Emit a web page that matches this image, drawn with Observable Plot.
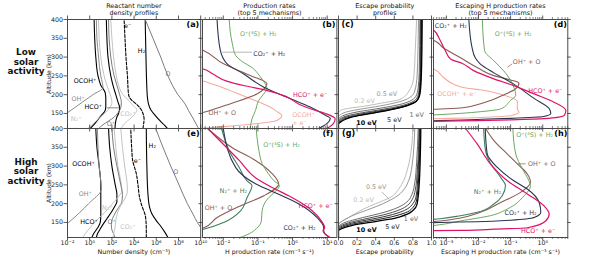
<!DOCTYPE html>
<html><head><meta charset="utf-8">
<script src="https://cdn.jsdelivr.net/npm/d3@7"></script>
<script src="https://cdn.jsdelivr.net/npm/@observablehq/plot@0.6"></script>
<style>
body{margin:0;background:#fff;}
#chart{position:relative;width:594px;height:264px;font-family:"DejaVu Sans",sans-serif;color:#111;overflow:hidden;}
#chart svg{position:absolute;}
.lbl{position:absolute;transform:translate(-50%,-50%);white-space:nowrap;text-align:center;}
</style></head>
<body><div id="chart"></div>
<script>
// ---------- axis ticks ----------
const ALT_DOMAIN = [110, 400];
const ALT_TICKS = [150, 200, 250, 300, 350, 400];
const DENS_TICKS = [1e-2, 1e0, 1e2, 1e4, 1e6, 1e8, 1e10];
const PROD_TICKS = [1e-2, 1e-1, 1e0, 1e1];
const ESC_TICKS = [0, 0.2, 0.4, 0.6, 0.8, 1.0];
const ESCH_TICKS = [1e-3, 1e-2, 1e-1, 1e0];

// ---------- (a) low solar: number densities [alt km, log10 n] ----------
const lowOCOH = [[400,0.4],[350,0.45],[300,0.55],[250,0.75],[225,1.0],[205,1.4],[190,1.45],[170,1.45],[158,1.4],[145,1.05],[130,0.65],[120,0.38],[110,0.05]];
const lowOH = [[400,0.6],[350,0.65],[300,0.8],[250,1.0],[230,1.15],[219,1.2],[200,0.3],[180,-0.66],[152,-2.0],[140,-2.6]];
const lowHCO = [[400,1.5],[350,1.55],[300,1.65],[250,1.9],[225,2.1],[200,2.35],[180,2.55],[165,2.7],[150,2.6],[139,2.43],[125,2.32],[110,2.28]];
const lowN2 = [[400,0.8],[350,0.85],[300,1.0],[250,1.3],[220,1.6],[200,1.85],[180,2.0],[165,1.8],[150,1.35],[140,0.95],[125,0.4],[110,-0.15]];
const lowOp = [[400,1.7],[350,1.75],[300,1.9],[250,2.2],[225,2.45],[200,2.7],[180,2.85],[165,2.8],[150,2.5],[140,2.2],[130,1.7],[120,1.2],[110,0.8]];
const lowCO2 = [[400,1.9],[350,2.0],[300,2.15],[250,2.4],[225,2.6],[200,3.0],[185,3.5],[170,3.95],[160,4.25],[150,4.1],[140,3.8],[130,3.4],[120,3.05],[110,2.85]];
const lowE = [[400,3.1],[350,3.18],[300,3.27],[250,3.4],[200,3.5],[185,3.8],[175,4.2],[162,4.6],[150,4.8],[135,4.9],[120,4.85],[110,4.8]];
const lowH2 = [[400,5.0],[300,5.07],[200,5.18],[175,5.3],[160,5.5],[145,5.9],[130,6.35],[118,6.76],[110,7.0]];
const lowO = [[400,5.0],[350,5.7],[300,6.4],[250,7.05],[200,7.95],[175,8.6],[158,8.9],[135,9.35],[113,9.75],[110,9.8]];

// ---------- (e) high solar: number densities ----------
const highOCOH = [[400,0.55],[350,0.65],[300,0.85],[250,1.0],[200,1.0],[170,1.0],[150,0.95],[135,0.7],[120,0.35],[110,0.2]];
const highOH = [[400,0.7],[350,0.75],[300,0.85],[260,1.0],[239,1.05],[200,-0.1],[175,-0.95],[150,-1.9],[140,-2.3]];
const highHCO = [[400,1.7],[350,1.8],[300,2.0],[250,2.3],[225,2.45],[205,2.45],[190,2.2],[175,1.9],[160,1.55],[145,1.2],[130,0.9],[120,0.7],[110,0.6]];
const highN2 = [[400,2.2],[350,2.35],[300,2.55],[260,2.8],[235,2.9],[215,2.5],[195,1.9],[175,1.3],[155,0.6],[135,0.0],[120,-0.4],[110,-0.6]];
const highOp = [[400,2.0],[350,2.15],[300,2.45],[250,2.8],[225,2.95],[205,2.9],[190,2.6],[175,2.3],[160,2.05],[145,1.95],[130,2.0],[120,2.15],[110,2.25]];
const highCO2 = [[400,2.8],[350,2.95],[300,3.15],[260,3.35],[235,3.4],[215,3.2],[195,2.8],[175,2.5],[155,2.35],[140,2.3],[125,2.2],[110,2.1]];
const highE = [[400,3.7],[350,3.78],[315,3.87],[280,4.2],[250,4.35],[216,4.5],[190,4.75],[173,4.97],[150,5.08],[130,5.1],[110,5.1]];
const highH2 = [[400,5.1],[300,5.15],[225,5.25],[190,5.4],[173,5.6],[155,6.0],[140,6.4],[125,6.75],[110,7.05]];
const highO = [[400,5.95],[350,6.6],[300,7.3],[250,8.05],[200,8.8],[170,9.35],[150,9.7],[137,10.0],[120,10.3]];

// ---------- (b) low solar: H production rates [alt, log10 rate] ----------
const lowProdO4S = [[400,-1.83],[336,-1.74],[304,-1.64],[288,-1.45],[272,-1.17],[250,-0.95],[230,-0.8],[216,-0.74],[200,-0.85],[184,-0.98],[158,-1.07],[136,-1.17],[110,-1.22]];
const lowProdCO2 = [[400,-2.18],[320,-2.09],[282,-1.89],[255,-1.41],[220,-0.83],[193,-0.16],[167,0.51],[145,0.95],[137,1.09],[123,0.99],[110,0.75]];
const lowProdOH = [[330,-2.9],[319,-2.6],[282,-1.99],[251,-1.22],[229,-0.74],[202,-1.03],[176,-1.79],[153,-2.56],[145,-2.9]];
const lowProdHCO = [[275,-2.9],[269,-2.6],[255,-2.3],[236,-1.9],[223,-1.35],[212,-0.78],[196,-0.21],[174,0.2],[160,0.6],[150,0.95],[136,1.23],[123,1.18],[110,0.99]];
const lowProdOCOH = [[245,-2.9],[237,-2.6],[218,-1.99],[193,-1.32],[167,-0.65],[155,-0.45],[145,-0.31],[131,-0.45],[123,-1.03],[115,-1.99],[110,-2.7]];

// ---------- (f) high solar: H production rates ----------
const highProdO4S = [[400,-1.05],[341,-0.97],[307,-0.88],[280,-0.7],[262,-0.55],[248,-0.38],[232,-0.5],[216,-0.69],[181,-0.88],[154,-0.9],[133,-1.05],[120,-1.25],[110,-1.51]];
const highProdN2 = [[400,-2.05],[341,-1.83],[296,-1.54],[261,-1.32],[248,-1.17],[217,-1.31],[181,-1.5],[150,-1.99],[132,-2.57],[125,-2.9]];
const highProdCO2 = [[400,-2.0],[296,-1.64],[253,-1.07],[229,-0.5],[200,0.17],[163,0.71],[136,0.9],[128,0.9],[118,0.95],[110,1.08]];
const highProdOH = [[400,-2.45],[349,-1.74],[315,-1.07],[280,-0.59],[252,-0.4],[221,-0.83],[194,-1.51],[163,-2.18],[136,-2.56],[128,-2.9]];
const highProdHCO = [[400,-2.45],[360,-2.02],[315,-1.54],[269,-1.07],[243,-0.59],[221,-0.11],[189,0.46],[154,0.83],[136,0.93],[128,0.88],[110,1.08]];

// ---------- (c) low solar: escape probability [alt, p] ----------
const lowEsc02 = [[110,0],[150,0],[158,0.02],[164,0.12],[169,0.27],[177,0.45],[185,0.63],[195,0.71],[207,0.75],[247,0.81],[317,0.825],[400,0.84]];
const lowEsc05 = [[110,0],[140,0],[147,0.02],[155,0.1],[162,0.25],[168,0.4],[175,0.55],[183,0.68],[195,0.78],[210,0.82],[250,0.845],[320,0.855],[400,0.86]];
const lowEsc1 = [[110,0],[135,0],[140,0.02],[147,0.08],[154,0.2],[160,0.35],[167,0.52],[174,0.66],[182,0.76],[195,0.83],[215,0.855],[260,0.868],[400,0.875]];
const lowEsc2 = [[110,0],[130,0],[136,0.02],[142,0.07],[149,0.19],[155,0.33],[162,0.5],[169,0.65],[177,0.76],[190,0.84],[210,0.865],[260,0.877],[400,0.882]];
const lowEsc3 = [[110,0],[127,0],[133,0.02],[140,0.08],[146,0.19],[152,0.32],[159,0.49],[166,0.64],[174,0.76],[186,0.845],[205,0.87],[260,0.882],[400,0.888]];
const lowEsc5 = [[110,0],[125,0],[130,0.02],[137,0.08],[143,0.18],[149,0.31],[156,0.47],[163,0.62],[171,0.74],[183,0.84],[200,0.87],[260,0.887],[400,0.893]];
const lowEsc10 = [[110,0],[122,0],[127,0.02],[134,0.07],[140,0.14],[146,0.26],[152,0.4],[158,0.53],[164,0.64],[171,0.74],[178,0.81],[190,0.86],[205,0.878],[260,0.892],[400,0.9]];

// ---------- (g) high solar: escape probability ----------
const highEsc02 = [[110,0],[145,0],[152,0.03],[162,0.1],[175,0.19],[186,0.27],[200,0.4],[217,0.56],[240,0.65],[261,0.7],[290,0.74],[323,0.77],[400,0.8]];
const highEsc05 = [[110,0],[144,0],[150,0.02],[158,0.07],[167,0.14],[177,0.24],[188,0.36],[199,0.47],[210,0.56],[222,0.64],[240,0.71],[265,0.76],[300,0.79],[350,0.81],[400,0.82]];
const highEsc1 = [[110,0],[139,0],[144,0.02],[150,0.07],[156,0.15],[163,0.26],[170,0.38],[177,0.49],[185,0.59],[195,0.68],[208,0.75],[225,0.79],[255,0.82],[310,0.84],[400,0.857]];
const highEsc2 = [[110,0],[136,0],[141,0.02],[146,0.07],[152,0.15],[158,0.26],[164,0.37],[170,0.48],[177,0.58],[185,0.67],[195,0.74],[210,0.79],[235,0.825],[290,0.848],[400,0.866]];
const highEsc3 = [[110,0],[134,0],[138,0.02],[143,0.07],[148,0.14],[154,0.25],[159,0.36],[165,0.48],[171,0.58],[178,0.67],[186,0.74],[200,0.8],[220,0.835],[280,0.855],[400,0.872]];
const highEsc5 = [[110,0],[131,0],[135,0.02],[140,0.07],[145,0.14],[150,0.24],[155,0.36],[160,0.47],[165,0.57],[171,0.66],[178,0.74],[190,0.8],[210,0.84],[270,0.862],[400,0.878]];
const highEsc10 = [[110,0],[128,0],[132,0.02],[137,0.07],[141,0.13],[146,0.23],[150,0.34],[155,0.45],[159,0.56],[165,0.66],[172,0.74],[182,0.8],[199,0.845],[261,0.87],[400,0.885]];

// ---------- (d) low solar: escaping H production [alt, log10 rate] ----------
const lowEscO4S = [[400,-1.88],[317,-1.81],[290,-1.52],[263,-1.21],[220,-0.9],[198,-0.84],[185,-1.0],[162,-1.31],[155,-1.9],[150,-2.6],[146,-3.4],[144,-3.8]];
const lowEscCO2 = [[400,-2.3],[325,-2.2],[298,-2.1],[282,-1.95],[258,-1.52],[228,-0.9],[190,-0.27],[163,0.2],[150,0.25],[142,0.03],[137,-1.0],[134,-2.04],[131,-3.2],[129,-3.8]];
const lowEscOH = [[350,-3.8],[345,-3.4],[325,-3.1],[300,-2.6],[270,-2.0],[250,-1.5],[240,-1.05],[231,-0.74],[215,-0.85],[200,-1.2],[185,-1.6],[172,-2.1],[165,-2.5],[161,-3.4],[159,-3.8]];
const lowEscHCO = [[380,-3.8],[372,-3.4],[344,-3.19],[317,-3.03],[295,-2.87],[283,-2.5],[264,-2.15],[242,-1.52],[224,-0.9],[202,-0.27],[180,0.35],[158,0.72],[145,0.67],[136,0.04],[133,-1.0],[131,-2.04],[129,-3.4],[128,-3.8]];
const lowEscOCOH = [[275,-3.8],[268,-3.4],[245,-3.08],[228,-2.77],[217,-2.35],[213,-1.94],[201,-1.31],[182,-0.79],[162,-0.79],[153,-0.74],[144,-1.0],[140,-1.73],[138,-2.35],[136,-3.4],[135,-3.8]];

// ---------- (h) high solar: escaping H production ----------
const highEscO4S = [[400,-0.93],[332,-0.84],[292,-0.63],[261,-0.43],[248,-0.38],[221,-0.58],[186,-1.1],[168,-1.63],[154,-2.56],[144,-3.2],[140,-3.6]];
const highEscN2 = [[400,-1.84],[341,-1.78],[306,-1.62],[270,-1.31],[248,-1.16],[221,-1.26],[199,-1.52],[177,-2.04],[168,-2.56],[160,-3.19],[157,-3.6]];
const highEscCO2 = [[400,-1.79],[333,-1.73],[297,-1.42],[261,-0.9],[239,-0.48],[203,-0.11],[177,-0.06],[163,-0.27],[156,-1.0],[152,-2.04],[150,-3.19],[149,-3.6]];
const highEscOH = [[400,-1.78],[368,-1.52],[332,-1.1],[306,-0.79],[279,-0.48],[257,-0.38],[230,-0.69],[203,-1.31],[177,-1.94],[162,-2.56],[154,-3.19],[151,-3.6]];
const highEscHCO = [[400,-2.4],[359,-2.04],[306,-1.63],[261,-1.1],[226,-0.48],[194,0.04],[172,0.2],[154,0.09],[136,-0.48],[132,-1.52],[129,-2.56],[128,-3.6]];

// ---------- curve labels [text, style key, x (log10 or p), alt] ----------
const labelsA = [["OCOH⁺","OCOH⁺",-0.41,238],["OH⁺","OH⁺",-1.04,190],["HCO⁺","HCO⁺",0.33,168],["N₂⁺","N₂⁺",-1.22,135],["O⁺","O⁺",1.92,122],["CO₂⁺","CO₂⁺",3.44,150],["e⁻","e⁻",3.42,384],["H₂","H₂",4.67,317],["O","O",7.05,256]];
const labelsE = [["OCOH⁺","OCOH⁺",-0.56,307],["OH⁺","OH⁺",-0.39,227],["N₂⁺","N₂⁺",1.6,190],["HCO⁺","HCO⁺",-0.05,152],["O⁺","O⁺",1.98,152],["CO₂⁺","CO₂⁺",3.44,140],["e⁻","e⁻",4.3,315],["H₂","H₂",5.64,355],["O","O",7.75,284]];
const labelsB = [["O⁺(⁴S) + H₂","O⁺(⁴S) + H₂",-0.99,363],["CO₂⁺ + H₂","CO₂⁺ + H₂",-0.67,310],["HCO⁺ + e⁻","HCO⁺ + e⁻",0.51,200],["OH⁺ + O","OH⁺ + O",-2.03,152],["OCOH⁺\n+ e⁻","OCOH⁺ + e⁻",-0.01,136,"start"]];
const labelsF = [["O⁺(⁴S) + H₂","O⁺(⁴S) + H₂",-0.32,357],["N₂⁺ + H₂","N₂⁺ + H₂",-1.71,235],["OH⁺ + O","OH⁺ + O",-2.14,190],["HCO⁺ + e⁻","HCO⁺ + e⁻",0.67,195],["CO₂⁺ + H₂","CO₂⁺ + H₂",0.2,137]];
const labelsC = [["0.2 eV","0.2 eV",0.28,185],["0.5 eV","0.5 eV",0.52,203],["1 eV","1 eV",0.84,147],["5 eV","5 eV",0.6,134],["10 eV","10 eV",0.3,126]];
const labelsG = [["0.5 eV","0.5 eV",0.405,244],["0.2 eV","0.2 eV",0.27,210],["1 eV","1 eV",0.78,160],["5 eV","5 eV",0.58,140],["10 eV","10 eV",0.30,130]];
const labelsD = [["CO₂⁺ + H₂","CO₂⁺ + H₂",-2.86,384],["O⁺(⁴S) + H₂","O⁺(⁴S) + H₂",-0.92,363],["OH⁺ + O","OH⁺ + O",-0.5,288],["HCO⁺ + e⁻","HCO⁺ + e⁻",0.08,211],["OCOH⁺ + e⁻","OCOH⁺ + e⁻",-2.67,203]];
const labelsH = [["O⁺(⁴S) + H₂","O⁺(⁴S) + H₂",-0.25,384],["OH⁺ + O","OH⁺ + O",-0.03,307],["N₂⁺ + H₂","N₂⁺ + H₂",-1.72,231],["CO₂⁺ + H₂","CO₂⁺ + H₂",-0.69,177],["HCO⁺ + e⁻","HCO⁺ + e⁻",-0.14,128]];

// leader lines [x1, alt1, x2, alt2, style key]
const leadersA = [[1.53,165,2.73,165,"leader"]];
const leadersB = [[-2.03,313,-1.17,313,"leaderLight"]];
const leadersD = [[-0.95,282,-1.1,273,"OH⁺ + O"]];
const leadersG = [[0.467,231,0.548,211,"0.5 eV"]];
const leadersH = [[-0.79,306,-0.53,306,"OH⁺ + O"]];

// ---------- styles ----------
const STYLE = {
  "OCOH⁺": {stroke:"#000", width:1.1}, "OH⁺": {stroke:"#8a8a8a", width:1}, "HCO⁺": {stroke:"#000", width:1.1},
  "N₂⁺": {stroke:"#c2c2c2", width:1}, "O⁺": {stroke:"#7a7a7a", width:1}, "CO₂⁺": {stroke:"#c2c2c2", width:1},
  "e⁻": {stroke:"#000", width:1.1, dash:"3,1.6"}, "H₂": {stroke:"#000", width:1.1}, "O": {stroke:"#7a7a7a", width:1},
  "O⁺(⁴S) + H₂": {stroke:"#68a862", width:1}, "CO₂⁺ + H₂": {stroke:"#2b344f", width:1.1}, "OH⁺ + O": {stroke:"#8d5b54", width:1.1},
  "HCO⁺ + e⁻": {stroke:"#dc1466", width:1.2}, "OCOH⁺ + e⁻": {stroke:"#f6aa9e", width:1.1}, "N₂⁺ + H₂": {stroke:"#3e7f5f", width:1.1},
  "0.2 eV": {stroke:"#bdbdbd", width:1}, "0.5 eV": {stroke:"#969696", width:1}, "1 eV": {stroke:"#6b6b6b", width:1},
  "2 eV": {stroke:"#4d4d4d", width:1}, "3 eV": {stroke:"#363636", width:1}, "5 eV": {stroke:"#1c1c1c", width:1},
  "10 eV": {stroke:"#000", width:1.3},
  "leader": {stroke:"#555", width:0.7}, "leaderLight": {stroke:"#9a9a9a", width:0.8}
};

const seriesA = [["OCOH⁺",lowOCOH],["OH⁺",lowOH],["HCO⁺",lowHCO],["N₂⁺",lowN2],["O⁺",lowOp],["CO₂⁺",lowCO2],["e⁻",lowE],["H₂",lowH2],["O",lowO]];
const seriesE = [["OCOH⁺",highOCOH],["OH⁺",highOH],["HCO⁺",highHCO],["N₂⁺",highN2],["O⁺",highOp],["CO₂⁺",highCO2],["e⁻",highE],["H₂",highH2],["O",highO]];
const seriesB = [["OCOH⁺ + e⁻",lowProdOCOH],["OH⁺ + O",lowProdOH],["O⁺(⁴S) + H₂",lowProdO4S],["CO₂⁺ + H₂",lowProdCO2],["HCO⁺ + e⁻",lowProdHCO]];
const seriesF = [["OH⁺ + O",highProdOH],["O⁺(⁴S) + H₂",highProdO4S],["N₂⁺ + H₂",highProdN2],["CO₂⁺ + H₂",highProdCO2],["HCO⁺ + e⁻",highProdHCO]];
const seriesC = [["0.2 eV",lowEsc02],["0.5 eV",lowEsc05],["1 eV",lowEsc1],["2 eV",lowEsc2],["3 eV",lowEsc3],["5 eV",lowEsc5],["10 eV",lowEsc10]];
const seriesG = [["0.2 eV",highEsc02],["0.5 eV",highEsc05],["1 eV",highEsc1],["2 eV",highEsc2],["3 eV",highEsc3],["5 eV",highEsc5],["10 eV",highEsc10]];
const seriesD = [["OCOH⁺ + e⁻",lowEscOCOH],["OH⁺ + O",lowEscOH],["O⁺(⁴S) + H₂",lowEscO4S],["CO₂⁺ + H₂",lowEscCO2],["HCO⁺ + e⁻",lowEscHCO]];
const seriesH = [["OH⁺ + O",highEscOH],["O⁺(⁴S) + H₂",highEscO4S],["N₂⁺ + H₂",highEscN2],["CO₂⁺ + H₂",highEscCO2],["HCO⁺ + e⁻",highEscHCO]];

// ---------- layout ----------
const COL = {a:[67.3,200.5], b:[202.3,336.7], c:[338.3,431.3], d:[433,567.3]};
const ROW = {top:[19,128], bottom:[128,237]};
const DOM_DENS = [1e-2, 1e10], DOM_PROD = [10**-2.6, 10**1.28], DOM_ESC = [0, 1], DOM_ESCH = [10**-3.4, 10**0.78];

const SUP = {"-":"⁻","0":"⁰","1":"¹","2":"²","3":"³","4":"⁴","5":"⁵","6":"⁶","7":"⁷","8":"⁸","9":"⁹"};
const fmtPow = v => "10" + String(Math.round(Math.log10(v))).split("").map(c => SUP[c]).join("");
const fmtP = d3.format(".1f");
function minorTicks(dom) {
  const lo = Math.log10(dom[0]), hi = Math.log10(dom[1]), out = [];
  for (let e = Math.floor(lo); e <= Math.ceil(hi); e++) for (let k = 2; k <= 9; k++) {
    const v = k * 10 ** e, l = Math.log10(v); if (l >= lo && l <= hi) out.push(v);
  }
  return out;
}

const chart = document.getElementById("chart");

function drawPanel(cfg) {
  const [x0, x1] = cfg.col, [y0, y1] = cfg.row;
  const W = x1 - x0, H = y1 - y0;
  const ML = 26, MR = 8, MT = 8, MB = 18;
  const xv = cfg.log ? (v => 10 ** v) : (v => v);
  const tick = {stroke: "#333", strokeWidth: 0.8};
  const marks = [];
  for (const [key, pts] of cfg.series) {
    const s = STYLE[key];
    marks.push(Plot.line(pts.slice().sort((a, b) => a[0] - b[0]), {
      x: d => xv(d[1]), y: d => d[0], stroke: s.stroke, strokeWidth: s.width,
      strokeDasharray: s.dash, curve: "monotone-y", clip: true
    }));
  }
  for (const [xa, ya, xb, yb, key] of (cfg.leaders || [])) {
    const s = STYLE[key];
    marks.push(Plot.link([{xa, ya, xb, yb}], {x1: d => xv(d.xa), y1: "ya", x2: d => xv(d.xb), y2: "yb", stroke: s.stroke, strokeWidth: 0.7}));
  }
  for (const [text, key, xl, alt, anchor] of cfg.labels) {
    const bold = text === "10 eV";
    marks.push(Plot.text([{x: xv(xl), y: alt, t: text}], {x: "x", y: "y", text: "t", fill: STYLE[key].stroke,
      fontSize: 6.4, textAnchor: anchor || "middle", lineHeight: 1.15, fontWeight: bold ? "bold" : "normal"}));
  }
  marks.push(Plot.frame({stroke: "#4a4a4a", strokeWidth: 1}));
  marks.push(Plot.ruleX(cfg.majors, {x: d => d, insetTop: H, insetBottom: -3.5, ...tick}));
  marks.push(Plot.ruleX(cfg.majors, {x: d => d, insetTop: -3.5, insetBottom: H, ...tick}));
  if (cfg.minors) {
    marks.push(Plot.ruleX(cfg.minors, {x: d => d, insetTop: H, insetBottom: -2, stroke: "#333", strokeWidth: 0.6}));
    marks.push(Plot.ruleX(cfg.minors, {x: d => d, insetTop: -2, insetBottom: H, stroke: "#333", strokeWidth: 0.6}));
  }
  marks.push(Plot.ruleY(ALT_TICKS, {y: d => d, insetLeft: -3.5, insetRight: W, ...tick}));
  if (cfg.rightTicks) marks.push(Plot.ruleY(ALT_TICKS, {y: d => d, insetLeft: W, insetRight: -3.5, ...tick}));
  if (cfg.xFormat) marks.push(Plot.text(cfg.majors, {x: d => d, frameAnchor: "bottom", dy: 3.2, lineAnchor: "top",
      text: cfg.xFormat, fontSize: 6.3, fill: "#222"}));
  if (cfg.yLabels) marks.push(Plot.text(ALT_TICKS, {y: d => d, frameAnchor: "left", dx: -4.5, textAnchor: "end",
      text: d => String(d), fontSize: 6.3, fill: "#222"}));
  const [anchor, dx] = cfg.letter;
  marks.push(Plot.text([cfg.letter[2]], {frameAnchor: anchor, dx, dy: 2.2, lineAnchor: "top",
    textAnchor: anchor.endsWith("right") ? "end" : "start", text: d => d, fontWeight: "bold", fontSize: 8, fill: "#000"}));

  const svg = Plot.plot({
    width: W + ML + MR, height: H + MT + MB,
    marginLeft: ML, marginRight: MR, marginTop: MT, marginBottom: MB,
    x: {type: cfg.log ? "log" : "linear", domain: cfg.domain, axis: null},
    y: {domain: ALT_DOMAIN, axis: null},
    style: {background: "transparent", overflow: "visible", fontFamily: "DejaVu Sans, sans-serif"},
    marks
  });
  svg.style.left = (x0 - ML) + "px";
  svg.style.top = (y0 - MT) + "px";
  chart.appendChild(svg);
}

drawPanel({col: COL.a, row: ROW.top, log: true, domain: DOM_DENS, majors: DENS_TICKS, series: seriesA, labels: labelsA, leaders: leadersA, yLabels: true, letter: ["top-right", -1.5, "(a)"]});
drawPanel({col: COL.b, row: ROW.top, log: true, domain: DOM_PROD, majors: PROD_TICKS, minors: minorTicks(DOM_PROD), series: seriesB, labels: labelsB, leaders: leadersB, letter: ["top-right", -1.5, "(b)"]});
drawPanel({col: COL.c, row: ROW.top, log: false, domain: DOM_ESC, majors: ESC_TICKS, series: seriesC, labels: labelsC, letter: ["top-left", 3, "(c)"]});
drawPanel({col: COL.d, row: ROW.top, log: true, domain: DOM_ESCH, majors: ESCH_TICKS, minors: minorTicks(DOM_ESCH), series: seriesD, labels: labelsD, leaders: leadersD, rightTicks: true, letter: ["top-right", -1, "(d)"]});
drawPanel({col: COL.a, row: ROW.bottom, log: true, domain: DOM_DENS, majors: DENS_TICKS, series: seriesE, labels: labelsE, yLabels: true, xFormat: fmtPow, letter: ["top-right", -1, "(e)"]});
drawPanel({col: COL.b, row: ROW.bottom, log: true, domain: DOM_PROD, majors: PROD_TICKS, minors: minorTicks(DOM_PROD), series: seriesF, labels: labelsF, xFormat: fmtPow, letter: ["top-right", -3.5, "(f)"]});
drawPanel({col: COL.c, row: ROW.bottom, log: false, domain: DOM_ESC, majors: ESC_TICKS, series: seriesG, labels: labelsG, leaders: leadersG, xFormat: fmtP, letter: ["top-left", 3.5, "(g)"]});
drawPanel({col: COL.d, row: ROW.bottom, log: true, domain: DOM_ESCH, majors: ESCH_TICKS, minors: minorTicks(DOM_ESCH), series: seriesH, labels: labelsH, leaders: leadersH, rightTicks: true, xFormat: fmtPow, letter: ["top-right", -0.5, "(h)"]});

// ---------- titles and axis labels ----------
const TEXTS = [
  {t: "Reactant number<br>density profiles", x: 133.9, y: 9.8, s: 6.4},
  {t: "Production rates<br>(top 5 mechanisms)", x: 269.5, y: 9.8, s: 6.4},
  {t: "Escape probability<br>profiles", x: 384.8, y: 9.8, s: 6.4},
  {t: "Escaping H production rates<br>(top 5 mechanisms)", x: 500.5, y: 9.8, s: 6.4},
  {t: "Number density (cm⁻³)", x: 133.9, y: 251.5, s: 6.3},
  {t: "H production rate (cm⁻³ s⁻¹)", x: 269.5, y: 251.5, s: 6.3},
  {t: "Escape probability", x: 384.8, y: 251.5, s: 6.3},
  {t: "Escaping H production rate (cm⁻³ s⁻¹)", x: 500.5, y: 251.5, s: 6.3},
  {t: "Low<br>solar<br>activity", x: 26, y: 63, s: 8.8, b: true},
  {t: "High<br>solar<br>activity", x: 26, y: 172.5, s: 8.8, b: true},
  {t: "Altitude (km)", x: 49, y: 73.5, s: 6.1, r: true},
  {t: "Altitude (km)", x: 49, y: 182.5, s: 6.1, r: true}
];
for (const d of TEXTS) {
  const el = document.createElement("div");
  el.className = "lbl";
  el.innerHTML = d.t;
  el.style.left = d.x + "px";
  el.style.top = d.y + "px";
  el.style.fontSize = d.s + "px";
  el.style.lineHeight = d.b ? "9.7px" : "7.4px";
  if (d.b) el.style.fontWeight = "bold";
  if (d.r) el.style.transform = "translate(-50%,-50%) rotate(-90deg)";
  chart.appendChild(el);
}
</script>
</body></html>
